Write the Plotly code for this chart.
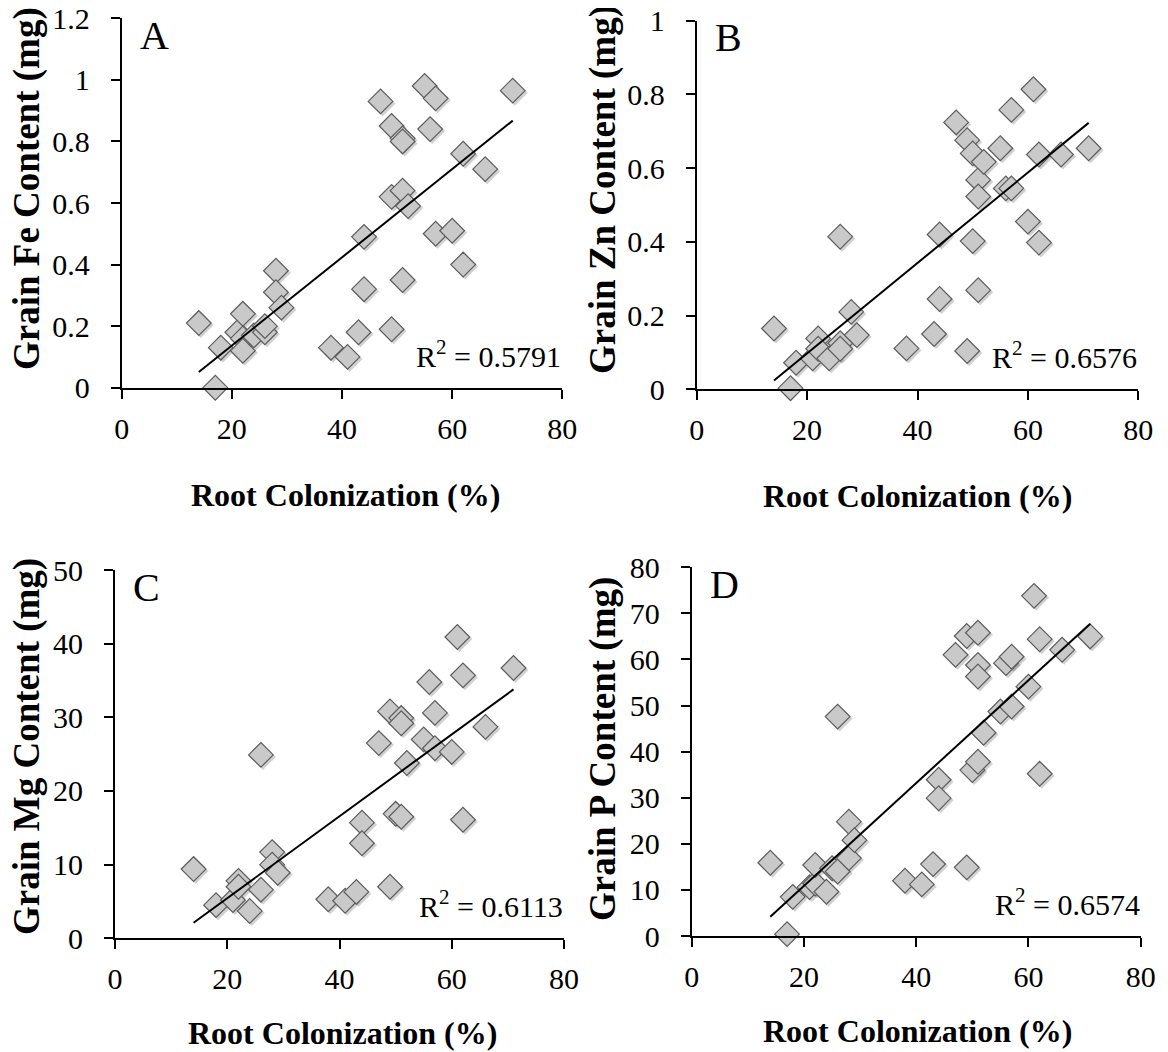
import numpy as np
import plotly.graph_objects as go

# ---------------- data ----------------
x_a = [14, 17, 18, 21, 22, 22, 22, 24, 26, 26, 28, 28, 29, 38, 41, 43, 44, 44, 47, 49,
       49, 49, 51, 51, 51, 51, 52, 55, 56, 57, 57, 60, 62, 62, 66, 71]
fe = [0.21, 0.0, 0.13, 0.18, 0.24, 0.16, 0.12, 0.17, 0.18, 0.20, 0.38, 0.31, 0.26, 0.13,
      0.10, 0.18, 0.49, 0.32, 0.93, 0.85, 0.19, 0.62, 0.64, 0.81, 0.80, 0.35, 0.59, 0.98,
      0.84, 0.94, 0.50, 0.51, 0.76, 0.40, 0.71, 0.965]

x_b = [14, 17, 18, 21, 22, 22, 24, 26, 26, 26, 28, 29, 38, 43, 44, 44, 47, 49, 49, 50,
       50, 51, 51, 51, 52, 55, 56, 57, 57, 60, 61, 62, 62, 66, 71]
zn = [0.165, 0.003, 0.072, 0.084, 0.138, 0.11, 0.084, 0.414, 0.125, 0.11, 0.21, 0.147,
      0.111, 0.15, 0.245, 0.42, 0.724, 0.676, 0.104, 0.402, 0.64, 0.568, 0.523, 0.269,
      0.617, 0.654, 0.545, 0.545, 0.758, 0.455, 0.814, 0.637, 0.398, 0.637, 0.654]

x_c = [14, 18, 21, 22, 22, 24, 26, 26, 28, 28, 29, 38, 41, 43, 44, 44, 47, 49, 49, 50,
       51, 51, 51, 52, 55, 56, 57, 57, 60, 61, 62, 62, 66, 71]
mg = [9.4, 4.5, 5.2, 7.8, 7.0, 3.7, 24.9, 6.6, 11.7, 10.0, 8.9, 5.3, 5.1, 6.3, 15.7, 12.9,
      26.5, 30.8, 7.0, 16.9, 16.5, 29.9, 29.2, 23.8, 27.0, 34.8, 30.6, 25.8, 25.3, 40.9,
      35.7, 16.1, 28.7, 36.7]

x_d = [14, 17, 18, 21, 22, 22, 24, 25, 26, 26, 28, 28, 29, 38, 41, 43, 44, 44, 47, 49,
       49, 50, 51, 51, 51, 51, 52, 55, 56, 57, 57, 60, 61, 62, 62, 66, 71]
p = [15.9, 0.4, 8.5, 10.6, 11.4, 15.4, 9.6, 14.7, 14.0, 47.6, 24.8, 16.9, 20.8, 12.0, 11.2,
     15.6, 33.9, 29.9, 61.0, 65.1, 14.9, 36.0, 37.8, 65.8, 58.8, 56.3, 44.1, 48.7, 59.2,
     60.6, 49.8, 54.1, 73.8, 64.4, 35.2, 62.1, 65.0]

panel_letters = ["A", "B", "C", "D"]
y_titles = ["Grain Fe Content (mg)", "Grain Zn Content (mg)",
            "Grain Mg Content (mg)", "Grain P Content (mg)"]
x_title = "Root Colonization (%)"
r2_labels = ["R<sup>2</sup> = 0.5791", "R<sup>2</sup> = 0.6576",
             "R<sup>2</sup> = 0.6113", "R<sup>2</sup> = 0.6574"]
y_ranges = [(0, 1.2, 0.2), (0, 1.0, 0.2), (0, 50, 10), (0, 80, 10)]
x_range = (0, 80, 20)

# ---------------- layout geometry (page pixels) ----------------
OFF = 8                      # default page body margin
W, H = 1168 - OFF, 1052 - OFF
# plot boxes in page pixels: left, right, top, bottom
boxes = [
    (121.7, 562.3, 18.3, 387.7),
    (696.7, 1138.3, 20.7, 389.3),
    (115.0, 564.0, 570.0, 938.3),
    (691.7, 1140.7, 567.3, 936.0),
]
# axis-title centres in page pixels
xtitle_pos = [(345, 495), (917, 496), (342, 1033), (917, 1031)]
ytitle_pos = [(27, 189), (603, 190), (27, 747), (603, 749)]


def px(xp):
    return (xp - OFF) / W


def py(yp):
    return 1 - (yp - OFF) / H


FONT = "Liberation Serif"
fig = go.Figure()
datasets = [(x_a, fe), (x_b, zn), (x_c, mg), (x_d, p)]

for i, ((xs, ys), box) in enumerate(zip(datasets, boxes)):
    n = "" if i == 0 else str(i + 1)
    xa, ya = "x" + n, "y" + n
    l, r, t, b = box
    y0, y1, dy = y_ranges[i]
    xs_arr = np.array(xs, float)
    ys_arr = np.array(ys, float)
    slope, icpt = np.polyfit(xs_arr, ys_arr, 1)
    xl = np.array([xs_arr.min(), xs_arr.max()])
    # soft drop shadow: shift ~2 px right / down in data units
    dx = 2.0 * (x_range[1] - x_range[0]) / (r - l)
    dyy = 2.0 * (y1 - y0) / (b - t)
    fig.add_trace(go.Scatter(
        x=xs_arr + dx, y=ys_arr - dyy, mode="markers", xaxis=xa, yaxis=ya,
        cliponaxis=False, hoverinfo="skip",
        marker=dict(symbol="diamond", size=20, color="rgba(0,0,0,0.18)", line=dict(width=0)),
        showlegend=False))
    fig.add_trace(go.Scatter(
        x=xs, y=ys, mode="markers", xaxis=xa, yaxis=ya, cliponaxis=False,
        marker=dict(symbol="diamond", size=19, color="#c9c9c9",
                    line=dict(color="#5c5c5c", width=1.2)),
        showlegend=False))
    fig.add_trace(go.Scatter(
        x=xl, y=slope * xl + icpt, mode="lines", xaxis=xa, yaxis=ya,
        line=dict(color="black", width=2), showlegend=False))

    ax_common = dict(showgrid=False, zeroline=False, showline=True, linecolor="black",
                     linewidth=2, ticks="outside", ticklen=9, tickwidth=2,
                     tickcolor="black", automargin=False, ticklabeloverflow="allow",
                     tickfont=dict(family=FONT, size=30, color="black"))
    fig.layout["xaxis" + n] = dict(
        domain=[px(l), px(r)], range=[x_range[0], x_range[1]], dtick=x_range[2],
        tick0=0, anchor=ya, ticklabelstandoff=4, **ax_common)
    fig.layout["yaxis" + n] = dict(
        domain=[py(b), py(t)], range=[y0, y1], dtick=dy, tick0=0,
        anchor=xa, ticklabelstandoff=15, **ax_common)

    # panel letter
    fig.add_annotation(text=panel_letters[i], xref="paper", yref="paper",
                       x=px(l + 16), y=py(t + 17), xanchor="left", yanchor="middle",
                       showarrow=False, font=dict(family=FONT, size=40, color="black"))
    # R^2
    fig.add_annotation(text=r2_labels[i], xref="paper", yref="paper",
                       x=px(r + 1), y=py(b - 34), xanchor="right", yanchor="middle",
                       showarrow=False, font=dict(family=FONT, size=30, color="black"))
    # x title
    xt, yt = xtitle_pos[i]
    fig.add_annotation(text="<b>" + x_title + "</b>", xref="paper", yref="paper",
                       x=px(xt), y=py(yt), xanchor="center",
                       yanchor="middle", showarrow=False,
                       font=dict(family=FONT, size=32, color="black"))
    # y title
    xt, yt = ytitle_pos[i]
    fig.add_annotation(text="<b>" + y_titles[i] + "</b>", xref="paper", yref="paper",
                       x=px(xt), y=py(yt), xanchor="center",
                       yanchor="middle", textangle=-90, showarrow=False,
                       font=dict(family=FONT, size=37, color="black"))

fig.update_layout(width=W, height=H, margin=dict(l=0, r=0, t=0, b=0),
                  paper_bgcolor="white", plot_bgcolor="white", showlegend=False,
                  template="none")
fig.write_html("out.html")
